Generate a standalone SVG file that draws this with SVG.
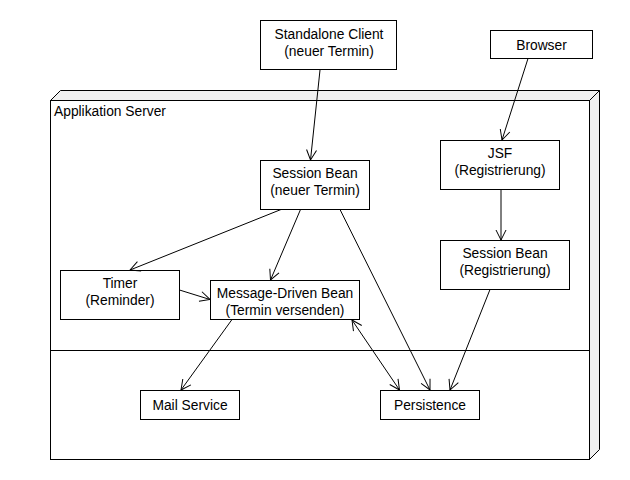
<svg xmlns="http://www.w3.org/2000/svg" width="630" height="480" viewBox="0 0 630 480">
<style>
text{font-family:"Liberation Sans",Arial,sans-serif;font-size:13.8px;fill:#000;text-anchor:middle}
.box{fill:#fff;stroke:#000;stroke-width:1}
.side{fill:#f0f0f0;stroke:#000;stroke-width:1;stroke-linejoin:miter}
.edge{fill:none;stroke:#000;stroke-width:1;marker-end:url(#arr)}
</style>
<defs>
<marker id="arr" viewBox="0 0 12 12" refX="11" refY="6" markerWidth="12" markerHeight="12" markerUnits="userSpaceOnUse" orient="auto-start-reverse">
<path d="M1,1 L11,6 L1,11" fill="none" stroke="#000" stroke-width="1"/>
</marker>
</defs>
<rect width="630" height="480" fill="#fff"/>
<g id="server">
<polygon class="side" points="50.5,100.5 60.5,90.5 599.5,90.5 589.5,100.5"/>
<polygon class="side" points="589.5,100.5 599.5,90.5 599.5,449.5 589.5,459.5"/>
<rect class="box" x="50.5" y="100.5" width="539" height="359"/>
<line x1="50.5" y1="350.5" x2="589.5" y2="350.5" stroke="#000"/>
<text x="54" y="116" style="text-anchor:start">Applikation Server</text>
</g>
<g id="standalone">
<rect class="box" x="260.5" y="20.5" width="136" height="49"/>
<text x="329" y="39">Standalone Client</text>
<text x="329" y="56">(neuer Termin)</text>
</g>
<g id="browser">
<rect class="box" x="490.5" y="30.5" width="102" height="28"/>
<text x="541.5" y="49.5">Browser</text>
</g>
<g id="sessionNeu">
<rect class="box" x="260.5" y="160.5" width="109" height="49"/>
<text x="315" y="178">Session Bean</text>
<text x="315" y="195">(neuer Termin)</text>
</g>
<g id="jsf">
<rect class="box" x="440.5" y="140.5" width="119" height="49"/>
<text x="500" y="158">JSF</text>
<text x="500" y="175">(Registrierung)</text>
</g>
<g id="sessionReg">
<rect class="box" x="440.5" y="240.5" width="129" height="49"/>
<text x="505" y="258">Session Bean</text>
<text x="505" y="275">(Registrierung)</text>
</g>
<g id="timer">
<rect class="box" x="60.5" y="270.5" width="119" height="49"/>
<text x="120" y="288">Timer</text>
<text x="120" y="305">(Reminder)</text>
</g>
<g id="mdb">
<rect class="box" x="210.5" y="280.5" width="149" height="39"/>
<text x="285" y="298">Message-Driven Bean</text>
<text x="285" y="315">(Termin versenden)</text>
</g>
<g id="mail">
<rect class="box" x="140.5" y="390.5" width="99" height="29"/>
<text x="190" y="410">Mail Service</text>
</g>
<g id="persistence">
<rect class="box" x="380.5" y="390.5" width="99" height="29"/>
<text x="430" y="410">Persistence</text>
</g>
<g id="connectors">
<line class="edge" x1="320" y1="70" x2="310.5" y2="160"/>
<line class="edge" x1="528" y1="58.5" x2="502" y2="140"/>
<line class="edge" x1="501" y1="189.5" x2="501" y2="240"/>
<line class="edge" x1="281" y1="209.5" x2="130" y2="270"/>
<line class="edge" x1="300.5" y1="209.5" x2="270.5" y2="280"/>
<line class="edge" x1="340" y1="209.5" x2="430" y2="390"/>
<line class="edge" x1="179.5" y1="290" x2="210" y2="299.5"/>
<line class="edge" x1="232" y1="319.5" x2="181" y2="390"/>
<line class="edge" x1="352" y1="320" x2="399.5" y2="390" style="marker-start:url(#arr)"/>
<line class="edge" x1="490" y1="289.5" x2="450" y2="390"/>
</g>
</svg>
